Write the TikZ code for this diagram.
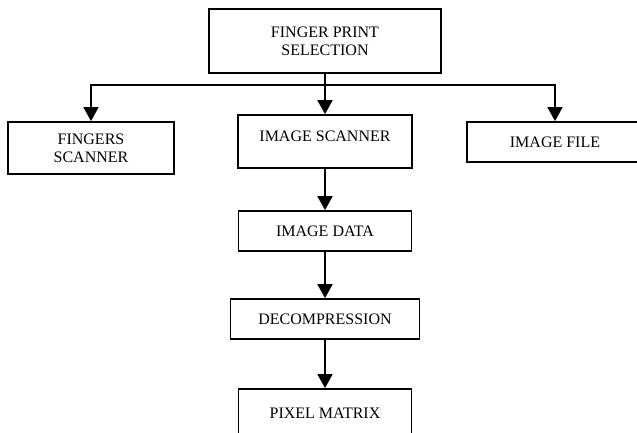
\documentclass[tikz,border=0pt]{standalone}
\usepackage{fontspec}
\setmainfont{Liberation Serif}
\usetikzlibrary{arrows.meta}
\begin{document}
\begin{tikzpicture}[x=1pt, y=-1pt, line width=1.8pt,
  box/.style={draw, rectangle, inner sep=0pt, align=center,
    font=\fontsize{16}{18}\selectfont},
  arr/.style={-{Triangle[length=14pt,width=15pt]}}]
\useasboundingbox (0,0) rectangle (637,432);

\node[box, minimum width=232pt, minimum height=64pt] (sel) at (325,41) {FINGER PRINT\\SELECTION};
\node[box, minimum width=166pt, minimum height=52pt] (fsc) at (91,148) {FINGERS\\SCANNER};
\node[box, minimum width=174pt, text height=26.5pt, text depth=26.5pt] (isc) at (325,141.5) {IMAGE SCANNER};
\node[box, minimum width=176pt, minimum height=40pt] (ifl) at (555,142) {IMAGE FILE};
\node[box, minimum width=173pt, minimum height=40pt] (idt) at (325,231) {IMAGE DATA};
\node[box, minimum width=189pt, minimum height=40pt] (dcp) at (325,319) {DECOMPRESSION};
\node[box, minimum width=173pt, minimum height=48pt] (pxm) at (325,413) {PIXEL MATRIX};

\coordinate (bus) at (325,85);
\draw[arr] (sel) -- (isc);
\draw[arr] (bus) -| (fsc);
\draw[arr] (bus) -| (ifl);
\draw[arr] (isc) -- (idt);
\draw[arr] (idt) -- (dcp);
\draw[arr] (dcp) -- (pxm);
\end{tikzpicture}
\end{document}
